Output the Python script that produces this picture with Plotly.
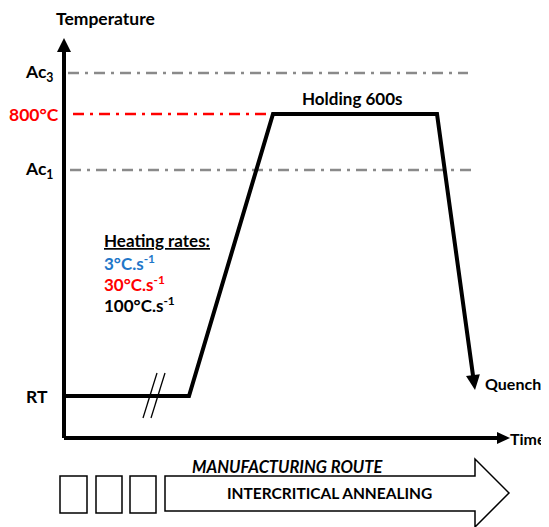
import math
import plotly.graph_objects as go

# ---------------- data (schematic units: 1 unit ~ 1 px) ----------------
level_names = ["Ac<sub>3</sub>", "800°C", "Ac<sub>1</sub>", "RT"]
level_values = [365, 324, 268, 42]
level_colors = ["#8a8a8a", "#ff0000", "#8a8a8a", "black"]

profile_time = [0, 125, 209, 373, 411]
profile_temp = [42, 42, 324, 324, 48]

break_time = 90

rate_labels = ["3°C.s<sup>-1</sup>", "30°C.s<sup>-1</sup>", "100°C.s<sup>-1</sup>"]
rate_colors = ["#1f77c9", "#ff0000", "black"]

time_axis_end = 446
temp_axis_end = 400

FONT = "Lato"

fig = go.Figure()
shapes = []
annotations = []


def arrowhead(tip_x, tip_y, dir_x, dir_y, length, half_w):
    n = math.hypot(dir_x, dir_y)
    ux, uy = dir_x / n, dir_y / n
    bx, by = tip_x - ux * length, tip_y - uy * length
    px, py = -uy, ux
    return (f"M {tip_x},{tip_y} L {bx + px*half_w},{by + py*half_w} "
            f"L {bx - px*half_w},{by - py*half_w} Z")


# dash-dot reference lines
dash_ends = {0: 404, 1: 205, 2: 408}
dash_starts = {0: 4, 1: 9, 2: 6}
for i in range(3):
    fig.add_trace(go.Scatter(
        x=[dash_starts[i], dash_ends[i]], y=[level_values[i], level_values[i]],
        mode="lines", line=dict(color=level_colors[i], width=2.5, dash="11px,6px,3px,6px"),
        hoverinfo="skip", showlegend=False))

# axes
fig.add_trace(go.Scatter(x=[0, 0], y=[0, temp_axis_end - 12], mode="lines",
                         line=dict(color="black", width=4), hoverinfo="skip", showlegend=False))
fig.add_trace(go.Scatter(x=[0, time_axis_end - 11], y=[0, 0], mode="lines",
                         line=dict(color="black", width=4), hoverinfo="skip", showlegend=False))
shapes.append(dict(type="path", path=arrowhead(0, temp_axis_end, 0, 1, 14, 7),
                   fillcolor="black", line=dict(width=0), xref="x", yref="y"))
shapes.append(dict(type="path", path=arrowhead(time_axis_end, 0, 1, 0, 13, 6),
                   fillcolor="black", line=dict(width=0), xref="x", yref="y"))

# thermal profile
dx = profile_time[-1] - profile_time[-2]
dy = profile_temp[-1] - profile_temp[-2]
n = math.hypot(dx, dy)
shaft_x = profile_time[:-1] + [profile_time[-1] - dx / n * 13]
shaft_y = profile_temp[:-1] + [profile_temp[-1] - dy / n * 13]
fig.add_trace(go.Scatter(x=shaft_x, y=shaft_y, mode="lines",
                         line=dict(color="black", width=4), hoverinfo="skip", showlegend=False))
shapes.append(dict(type="path", path=arrowhead(profile_time[-1], profile_temp[-1], dx, dy, 15, 7),
                   fillcolor="black", line=dict(width=0), xref="x", yref="y"))

# break marks
for off in (-4, 4):
    fig.add_trace(go.Scatter(x=[break_time + off - 7, break_time + off + 7],
                             y=[level_values[3] - 22, level_values[3] + 23], mode="lines",
                             line=dict(color="black", width=1.3), hoverinfo="skip", showlegend=False))

# level labels
label_right = [-9, -3, -9, -14]
for name, val, col, xr in zip(level_names, level_values, level_colors, label_right):
    c = "black" if col == "#8a8a8a" else col
    annotations.append(dict(x=xr, y=val, text=f"<b>{name}</b>", xanchor="right", yanchor="middle",
                            showarrow=False, font=dict(family=FONT, size=17.5, color=c)))

annotations.append(dict(x=41, y=420, text="<b>Temperature</b>", showarrow=False,
                        font=dict(family=FONT, size=17.5, color="black")))
annotations.append(dict(x=288, y=340, text="<b>Holding 600s</b>", showarrow=False,
                        font=dict(family=FONT, size=17, color="black")))
annotations.append(dict(x=38, y=198, text="<b><u>Heating rates:</u></b>", xanchor="left", showarrow=False,
                        font=dict(family=FONT, size=17, color="black")))
for i, (lab, col) in enumerate(zip(rate_labels, rate_colors)):
    annotations.append(dict(x=38, y=176 - 21 * i, text=f"<b>{lab}</b>", xanchor="left", showarrow=False,
                            font=dict(family=FONT, size=17, color=col)))
annotations.append(dict(x=419, y=55, text="<b>Quench</b>", xanchor="left", showarrow=False,
                        font=dict(family=FONT, size=16, color="black")))
annotations.append(dict(x=444, y=0, text="<b>Time</b>", xanchor="left", showarrow=False,
                        font=dict(family=FONT, size=16, color="black")))

# manufacturing route
for x0, x1 in [(-4, 23), (32, 58), (66, 92)]:
    shapes.append(dict(type="rect", x0=x0, x1=x1, y0=-38, y1=-75, xref="x", yref="y",
                       line=dict(color="black", width=1.5), fillcolor="white"))
shapes.append(dict(type="path", xref="x", yref="y",
                   path="M 101,-38 L 411,-38 L 411,-21 L 445,-55 L 411,-89 L 411,-73 L 101,-73 Z",
                   line=dict(color="black", width=1.5), fillcolor="white"))
annotations.append(dict(x=126, y=-29, text="<b><i>MANUFACTURING ROUTE</i></b>", xanchor="left",
                        showarrow=False, font=dict(family=FONT, size=16.5, color="black")))
annotations.append(dict(x=265, y=-55, text="<b>INTERCRITICAL ANNEALING</b>",
                        showarrow=False, font=dict(family=FONT, size=15.5, color="black")))

# page body has an 8px margin: figure is 8px smaller, ranges shifted so marks land in place
fig.update_layout(
    width=541, height=519, margin=dict(l=0, r=0, t=0, b=0),
    paper_bgcolor="white", plot_bgcolor="white",
    xaxis=dict(range=[-56, 485], visible=False, fixedrange=True),
    yaxis=dict(range=[-89, 430], visible=False, fixedrange=True),
    shapes=shapes, annotations=annotations, showlegend=False,
)
fig.write_html("out.html")
